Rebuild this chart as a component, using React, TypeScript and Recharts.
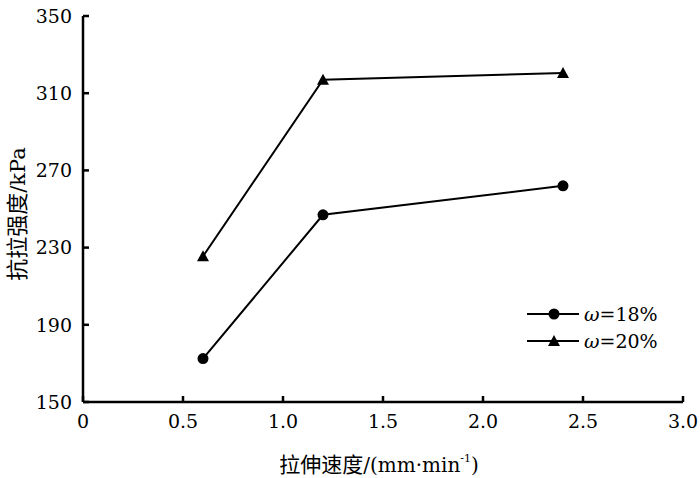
import { LineChart, Line, XAxis, YAxis } from 'recharts';

const speeds = [0.6, 1.2, 2.4];
const strength18 = [172.5, 247, 262];
const strength20 = [225.5, 317, 320.5];
const xTicks = [0, 0.5, 1.0, 1.5, 2.0, 2.5, 3.0];
const yTicks = [150, 190, 230, 270, 310, 350];

const data = speeds.map((s, i) => ({ speed: s, w18: strength18[i], w20: strength20[i] }));

const FONT = "'DejaVu Serif', serif";
const CJK = "'Noto Sans CJK SC'";
const FS = 19;

const CircleDot = ({ cx, cy }: any) => <circle cx={cx} cy={cy} r={5.5} fill="#000" />;

const TriangleDot = ({ cx, cy }: any) => (
  <path d={`M${cx},${cy - 6} L${cx + 6},${cy + 5} L${cx - 6},${cy + 5} Z`} fill="#000" />
);

// legend drawn next to the plot, outside recharts' layout
const LegendBox = () => (
  <svg width={170} height={60} style={{ position: 'absolute', left: 527, top: 300 }}>
    <g fontFamily={FONT} fontSize={FS} fill="#000">
      <line x1={0} x2={52} y1={14} y2={14} stroke="#000" strokeWidth={2} />
      <CircleDot cx={27} cy={14} />
      <text x={57} y={21}>
        <tspan fontStyle="italic">ω</tspan>=18%
      </text>
      <line x1={0} x2={52} y1={41} y2={41} stroke="#000" strokeWidth={2} />
      <TriangleDot cx={27} cy={41} />
      <text x={57} y={48}>
        <tspan fontStyle="italic">ω</tspan>=20%
      </text>
    </g>
  </svg>
);

const XLabel = ({ viewBox }: any) => (
  <text x={viewBox.x + viewBox.width / 2 - 4} y={472} textAnchor="middle" fontSize={21} fill="#000">
    <tspan fontFamily={CJK}>拉伸速度</tspan>
    <tspan fontFamily={FONT} fontSize={20}>/(mm·min</tspan>
    <tspan fontFamily={FONT} fontSize={11} dy={-10}>-1</tspan>
    <tspan fontFamily={FONT} fontSize={20} dy={10}>)</tspan>
  </text>
);

const YLabel = () => (
  <text x={25} y={214} transform="rotate(-90 25 214)" textAnchor="middle" fontSize={22} fill="#000">
    <tspan fontFamily={CJK}>抗拉强度</tspan>
    <tspan fontFamily={FONT} fontSize={21}>/kPa</tspan>
  </text>
);

export default function App() {
  return (
    <div style={{ position: 'absolute', left: 0, top: 0, width: 700, height: 478, background: '#fff' }}>
      <LineChart width={700} height={478} data={data} margin={{ top: 16, right: 17, left: 0, bottom: 0 }}>
        <XAxis
          dataKey="speed"
          type="number"
          domain={[0, 3]}
          ticks={xTicks}
          tickFormatter={(v: number) => (v === 0 ? '0' : v.toFixed(1))}
          height={76}
          stroke="#000"
          strokeWidth={2.5}
          tickSize={-6}
          tickMargin={19}
          tick={{ fill: '#000', fontSize: FS, fontFamily: FONT }}
          label={<XLabel />}
        />
        <YAxis
          type="number"
          domain={[150, 350]}
          ticks={yTicks}
          width={83}
          stroke="#000"
          strokeWidth={2.5}
          tickSize={-6}
          tickMargin={17}
          tick={{ fill: '#000', fontSize: FS, fontFamily: FONT }}
          label={<YLabel />}
        />
        <Line
          dataKey="w18"
          stroke="#000"
          strokeWidth={2}
          dot={<CircleDot />}
          activeDot={false}
          isAnimationActive={false}
        />
        <Line
          dataKey="w20"
          stroke="#000"
          strokeWidth={2}
          dot={<TriangleDot />}
          activeDot={false}
          isAnimationActive={false}
        />
      </LineChart>
      <LegendBox />
    </div>
  );
}
